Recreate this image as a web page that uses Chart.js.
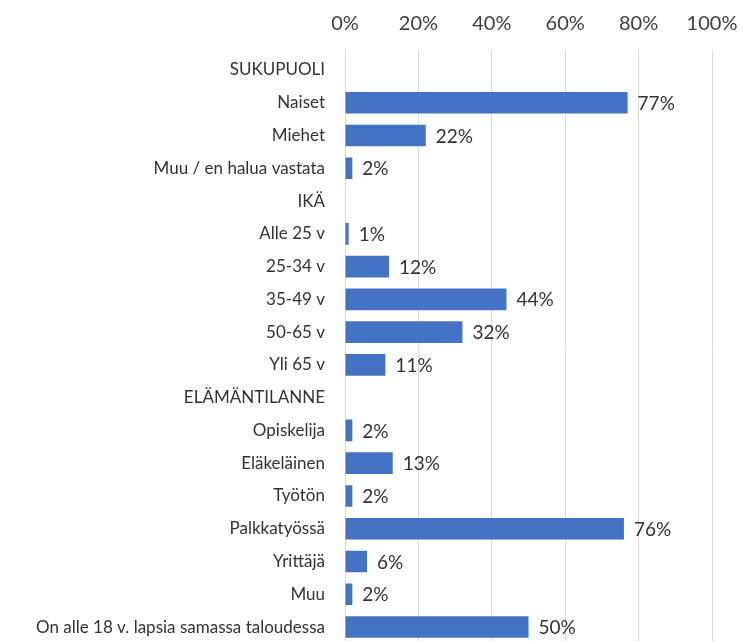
<!DOCTYPE html>
<html>
<head>
<meta charset="utf-8">
<script src="https://cdn.jsdelivr.net/npm/chart.js@4"></script>
<style>
  html, body { margin: 0; padding: 0; background: #fff; overflow: hidden; }
  #wrap { width: 756px; height: 645px; position: relative; }
</style>
</head>
<body>
<div id="wrap"><canvas id="surveyChart"></canvas></div>
<script>
const categories = [
    'SUKUPUOLI', 'Naiset', 'Miehet', 'Muu / en halua vastata',
    'IKÄ', 'Alle 25 v', '25-34 v', '35-49 v', '50-65 v', 'Yli 65 v',
    'ELÄMÄNTILANNE', 'Opiskelija', 'Eläkeläinen', 'Työtön', 'Palkkatyössä', 'Yrittäjä', 'Muu',
    'On alle 18 v. lapsia samassa taloudessa'
];
// otsikkoriveillä ei arvoa
const shares = [null, 77, 22, 2, null, 1, 12, 44, 32, 11, null, 2, 13, 2, 76, 6, 2, 50];
const xTicks = [0, 20, 40, 60, 80, 100];

const fontFamily = "Lato, 'Open Sans', sans-serif";

// prosenttiluvut palkkien perään
const valueLabels = {
    id: 'valueLabels',
    afterDatasetsDraw(chart) {
        const ctx = chart.ctx;
        const meta = chart.getDatasetMeta(0);
        ctx.save();
        ctx.font = '19px ' + fontFamily;
        ctx.fillStyle = '#333333';
        ctx.textBaseline = 'middle';
        meta.data.forEach((bar, i) => {
            if (shares[i] === null) return;
            ctx.fillText(shares[i] + '%', bar.x + 10, bar.y + 1);
        });
        ctx.restore();
    }
};

const ctx = document.getElementById('surveyChart').getContext('2d');
new Chart(ctx, {
    type: 'bar',
    data: {
        labels: categories,
        datasets: [{
            data: shares,
            backgroundColor: '#4472c4',
            barPercentage: 0.66,
            categoryPercentage: 1
        }]
    },
    options: {
        indexAxis: 'y',
        responsive: true,
        maintainAspectRatio: false,
        animation: false,
        layout: { padding: { right: 44, bottom: 1.6 } },
        plugins: {
            legend: { display: false },
            tooltip: { enabled: false }
        },
        scales: {
            x: {
                position: 'top',
                min: 0,
                max: 100,
                afterBuildTicks: (scale) => {
                    scale.ticks = xTicks.map(v => ({ value: v }));
                },
                afterFit: (scale) => {
                    scale.height = 53.6;
                    scale.paddingLeft = 0;
                    scale.paddingRight = 0;
                },
                ticks: {
                    callback: (v) => v + '%',
                    color: '#404040',
                    font: { family: fontFamily, size: 20 },
                    padding: 14
                },
                grid: { color: '#d9d9d9', tickLength: 4, drawTicks: true },
                border: { display: false }
            },
            y: {
                afterFit: (scale) => {
                    scale.width = 345;
                    scale.paddingTop = 0;
                    scale.paddingBottom = 0;
                },
                ticks: {
                    color: '#333333',
                    font: { family: fontFamily, size: 17 },
                    padding: 12,
                    autoSkip: false
                },
                grid: { display: false },
                border: { display: false }
            }
        }
    },
    plugins: [valueLabels]
});
</script>
</body>
</html>
